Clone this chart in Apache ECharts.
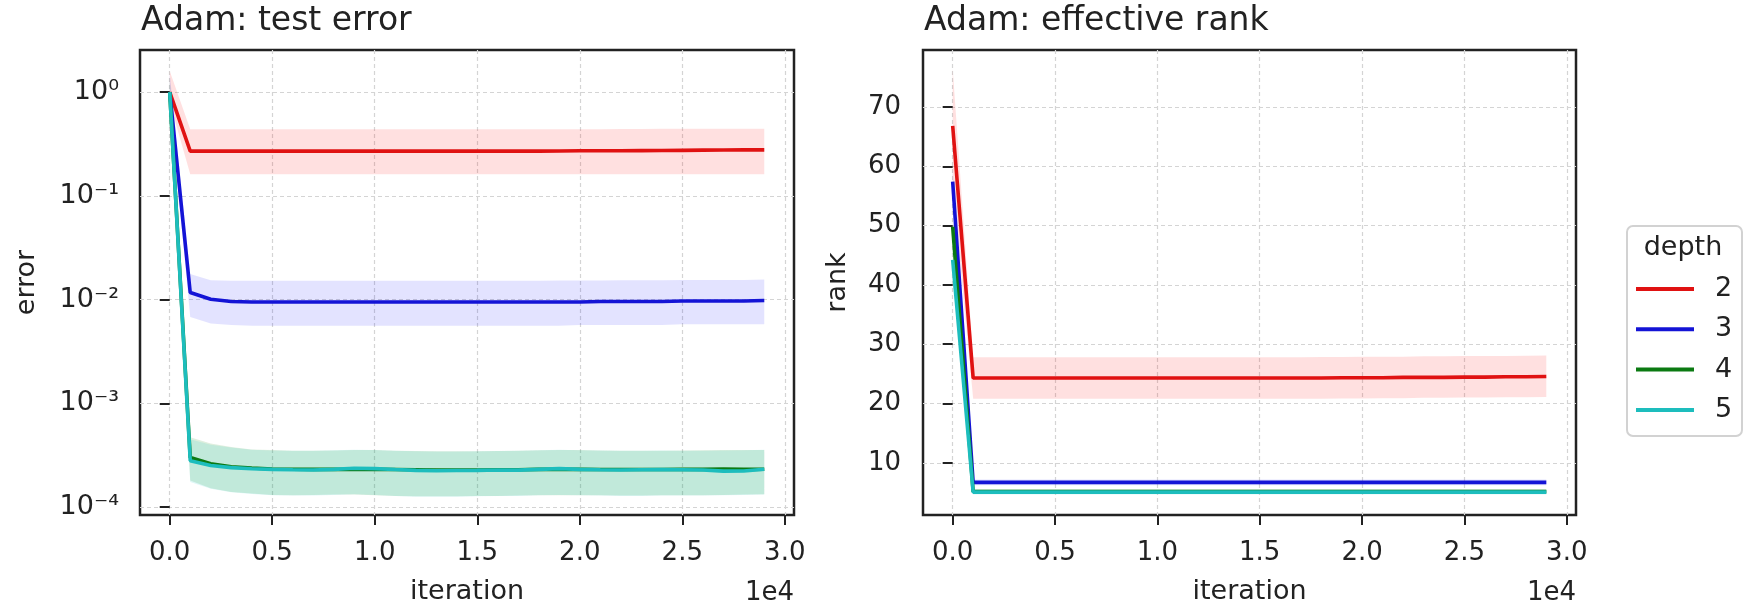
<!DOCTYPE html>
<html>
<head>
<meta charset="utf-8">
<script src="https://cdn.jsdelivr.net/npm/echarts@6/dist/echarts.min.js"></script>
<style>
  html, body { margin: 0; padding: 0; overflow: hidden; background: #fff; }
  #chart { width: 1744px; height: 610px; }
</style>
</head>
<body>
<div id="chart"></div>
<script>
const iterations = [0, 1000, 2000, 3000, 4000, 5000, 6000, 7000, 8000, 9000,
  10000, 11000, 12000, 13000, 14000, 15000, 16000, 17000, 18000, 19000,
  20000, 21000, 22000, 23000, 24000, 25000, 26000, 27000, 28000, 29000];
const depths = ["2", "3", "4", "5"];
const xTickLabels = ["0.0", "0.5", "1.0", "1.5", "2.0", "2.5", "3.0"];

// test error (log scale)
const err2 = [1.0, 0.27, 0.27, 0.27, 0.27, 0.27, 0.27, 0.27, 0.27, 0.27, 0.27, 0.27, 0.27, 0.27, 0.27,
  0.27, 0.27, 0.27, 0.27, 0.271, 0.272, 0.272, 0.272, 0.273, 0.274, 0.275, 0.276, 0.277, 0.278, 0.278];
const err2Up = [1.6, 0.44, 0.44, 0.44, 0.44, 0.44, 0.44, 0.44, 0.44, 0.44, 0.44, 0.44, 0.44, 0.44, 0.44,
  0.44, 0.44, 0.44, 0.44, 0.44, 0.44, 0.44, 0.441, 0.442, 0.443, 0.444, 0.445, 0.445, 0.445, 0.445];
const err2Lo = [0.8, 0.162, 0.162, 0.162, 0.162, 0.162, 0.162, 0.162, 0.162, 0.162, 0.162, 0.162, 0.162, 0.162, 0.162,
  0.162, 0.162, 0.162, 0.162, 0.162, 0.162, 0.162, 0.162, 0.162, 0.162, 0.162, 0.162, 0.162, 0.162, 0.162];
const err3 = [1.0, 0.0117, 0.0101, 0.0096, 0.0095, 0.0095, 0.0095, 0.0095, 0.0095, 0.0095, 0.0095, 0.0095, 0.0095, 0.0095, 0.0095,
  0.0095, 0.0095, 0.0095, 0.0095, 0.0095, 0.0095, 0.0096, 0.0096, 0.0096, 0.0096, 0.0097, 0.0097, 0.0097, 0.0097, 0.0098];
const err3Up = [1.5, 0.0177, 0.0154, 0.0152, 0.0152, 0.0152, 0.0152, 0.0152, 0.0152, 0.0152, 0.0152, 0.0152, 0.0152, 0.0152, 0.0152,
  0.0152, 0.0152, 0.0152, 0.0152, 0.0153, 0.0153, 0.0153, 0.0154, 0.0154, 0.0154, 0.0155, 0.0155, 0.0155, 0.0155, 0.0156];
const err3Lo = [0.8, 0.0068, 0.0059, 0.0057, 0.0056, 0.0056, 0.0056, 0.0056, 0.0056, 0.0056, 0.0056, 0.0056, 0.0056, 0.0056, 0.0056,
  0.0056, 0.0056, 0.0056, 0.0056, 0.0056, 0.0057, 0.0057, 0.0057, 0.0057, 0.0057, 0.0058, 0.0058, 0.0058, 0.0058, 0.0058];
const err4 = [1.0, 0.000300, 0.000262, 0.000245, 0.000238, 0.000233, 0.000232, 0.000231, 0.000231, 0.000230, 0.000231, 0.000230, 0.000229, 0.000228, 0.000228,
  0.000228, 0.000229, 0.000229, 0.000231, 0.000232, 0.000231, 0.000230, 0.000230, 0.000230, 0.000230, 0.000231, 0.000231, 0.000233, 0.000231, 0.000232];
const err4Up = [1.4, 0.00047, 0.00041, 0.00038, 0.00036, 0.000355, 0.00035, 0.00035, 0.000352, 0.000356, 0.000356, 0.00035, 0.000347, 0.000345, 0.000345,
  0.000345, 0.000347, 0.00035, 0.000353, 0.000356, 0.000355, 0.000352, 0.00035, 0.00035, 0.00035, 0.000351, 0.000353, 0.000355, 0.000356, 0.000356];
const err4Lo = [0.8, 0.00018, 0.000152, 0.00014, 0.000135, 0.000131, 0.00013, 0.000131, 0.000132, 0.000132, 0.00013, 0.000128, 0.000127, 0.000127, 0.000127,
  0.000128, 0.000128, 0.000129, 0.00013, 0.00013, 0.00013, 0.00013, 0.000129, 0.000129, 0.00013, 0.00013, 0.00013, 0.000131, 0.000132, 0.000133];
const err5 = [1.0, 0.000280, 0.000252, 0.000240, 0.000234, 0.000231, 0.000229, 0.000228, 0.000231, 0.000237, 0.000235, 0.000230, 0.000226, 0.000224, 0.000225,
  0.000226, 0.000228, 0.000227, 0.000231, 0.000235, 0.000231, 0.000229, 0.000228, 0.000229, 0.000230, 0.000229, 0.000228, 0.000222, 0.000223, 0.000232];
const err5Up = [1.3, 0.00045, 0.0004, 0.000375, 0.000358, 0.000352, 0.000349, 0.00035, 0.000354, 0.000358, 0.000356, 0.000349, 0.000345, 0.000343, 0.000344,
  0.000346, 0.000348, 0.000349, 0.000353, 0.000357, 0.000354, 0.000351, 0.000349, 0.00035, 0.000351, 0.00035, 0.00035, 0.000352, 0.000354, 0.000357];
const err5Lo = [0.8, 0.000175, 0.00015, 0.000139, 0.000134, 0.00013, 0.000129, 0.000129, 0.000131, 0.000133, 0.000131, 0.000128, 0.000126, 0.000126, 0.000126,
  0.000127, 0.000128, 0.000128, 0.00013, 0.000131, 0.00013, 0.000129, 0.000128, 0.000128, 0.000129, 0.000129, 0.000129, 0.00013, 0.000131, 0.000132];

// effective rank
const rank2 = [66.8, 24.3, 24.3, 24.3, 24.3, 24.3, 24.3, 24.3, 24.3, 24.3, 24.3, 24.3, 24.3, 24.3, 24.3,
  24.3, 24.3, 24.3, 24.3, 24.35, 24.35, 24.35, 24.4, 24.4, 24.4, 24.45, 24.45, 24.5, 24.5, 24.55];
const rank2Up = [76.5, 27.8, 27.8, 27.8, 27.8, 27.8, 27.8, 27.8, 27.8, 27.8, 27.8, 27.8, 27.8, 27.8, 27.8,
  27.8, 27.8, 27.8, 27.85, 27.85, 27.9, 27.9, 27.9, 27.95, 27.95, 28.0, 28.0, 28.0, 28.05, 28.1];
const rank2Lo = [57.0, 20.8, 20.8, 20.8, 20.8, 20.8, 20.8, 20.8, 20.8, 20.8, 20.8, 20.8, 20.8, 20.8, 20.8,
  20.8, 20.8, 20.8, 20.8, 20.85, 20.85, 20.9, 20.9, 20.95, 20.95, 21.0, 21.0, 21.05, 21.05, 21.1];
const rank3 = [57.4, 6.7, 6.7, 6.7, 6.7, 6.7, 6.7, 6.7, 6.7, 6.7, 6.7, 6.7, 6.7, 6.7, 6.7,
  6.7, 6.7, 6.7, 6.7, 6.7, 6.7, 6.7, 6.7, 6.7, 6.7, 6.7, 6.7, 6.7, 6.7, 6.7];
const rank3Up = [59.5, 7.2, 7.2, 7.2, 7.2, 7.2, 7.2, 7.2, 7.2, 7.2, 7.2, 7.2, 7.2, 7.2, 7.2,
  7.2, 7.2, 7.2, 7.2, 7.2, 7.2, 7.2, 7.2, 7.2, 7.2, 7.2, 7.2, 7.2, 7.2, 7.2];
const rank3Lo = [55.3, 6.2, 6.2, 6.2, 6.2, 6.2, 6.2, 6.2, 6.2, 6.2, 6.2, 6.2, 6.2, 6.2, 6.2,
  6.2, 6.2, 6.2, 6.2, 6.2, 6.2, 6.2, 6.2, 6.2, 6.2, 6.2, 6.2, 6.2, 6.2, 6.2];
const rank4 = [49.8, 5.15, 5.15, 5.15, 5.15, 5.15, 5.15, 5.15, 5.15, 5.15, 5.15, 5.15, 5.15, 5.15, 5.15,
  5.15, 5.15, 5.15, 5.15, 5.15, 5.15, 5.15, 5.15, 5.15, 5.15, 5.15, 5.15, 5.15, 5.15, 5.15];
const rank4Up = [51.5, 5.55, 5.55, 5.55, 5.55, 5.55, 5.55, 5.55, 5.55, 5.55, 5.55, 5.55, 5.55, 5.55, 5.55,
  5.55, 5.55, 5.55, 5.55, 5.55, 5.55, 5.55, 5.55, 5.55, 5.55, 5.55, 5.55, 5.55, 5.55, 5.55];
const rank4Lo = [48.0, 4.75, 4.75, 4.75, 4.75, 4.75, 4.75, 4.75, 4.75, 4.75, 4.75, 4.75, 4.75, 4.75, 4.75,
  4.75, 4.75, 4.75, 4.75, 4.75, 4.75, 4.75, 4.75, 4.75, 4.75, 4.75, 4.75, 4.75, 4.75, 4.75];
const rank5 = [44.2, 5.05, 5.05, 5.05, 5.05, 5.05, 5.05, 5.05, 5.05, 5.05, 5.05, 5.05, 5.05, 5.05, 5.05,
  5.05, 5.05, 5.05, 5.05, 5.05, 5.05, 5.05, 5.05, 5.05, 5.05, 5.05, 5.05, 5.05, 5.05, 5.05];
const rank5Up = [46.0, 5.45, 5.45, 5.45, 5.45, 5.45, 5.45, 5.45, 5.45, 5.45, 5.45, 5.45, 5.45, 5.45, 5.45,
  5.45, 5.45, 5.45, 5.45, 5.45, 5.45, 5.45, 5.45, 5.45, 5.45, 5.45, 5.45, 5.45, 5.45, 5.45];
const rank5Lo = [42.5, 4.65, 4.65, 4.65, 4.65, 4.65, 4.65, 4.65, 4.65, 4.65, 4.65, 4.65, 4.65, 4.65, 4.65,
  4.65, 4.65, 4.65, 4.65, 4.65, 4.65, 4.65, 4.65, 4.65, 4.65, 4.65, 4.65, 4.65, 4.65, 4.65];

const lineColors = ["#e01212", "#1414d6", "#0b7a12", "#1dbdbd"];
const bandColors = ["rgba(255,0,0,0.12)", "rgba(0,0,255,0.11)", "rgba(0,128,0,0.13)", "rgba(0,191,191,0.13)"];

const FONT = "DejaVu Sans";
const TXT = "#222";
const SUP = { "0": "\u2070", "1": "\u00b9", "2": "\u00b2", "3": "\u00b3", "4": "\u2074", "-": "\u207b" };

function powLabel(v) {
  let e = Math.log10(v);
  let r = Math.round(e);
  if (Math.abs(e - r) > 1e-6) return "";
  let s = String(r).split("").map((c) => SUP[c]).join("");
  return "10" + s;
}

function xLabel(v) {
  let i = Math.round(v / 5000);
  if (Math.abs(v - i * 5000) > 1e-6 || i < 0 || i >= xTickLabels.length) return "";
  return xTickLabels[i];
}

function bandSeries(idx, lower, upper, color) {
  return {
    type: "custom",
    xAxisIndex: idx,
    yAxisIndex: idx,
    silent: true,
    z: 1,
    data: iterations.map((it, i) => [it, lower[i], upper[i]]),
    encode: { x: 0, y: [1, 2] },
    renderItem: function (params, api) {
      if (params.dataIndexInside !== 0) return;
      let n = params.dataInsideLength;
      let pts = [];
      for (let i = 0; i < n; i++) pts.push(api.coord([api.value(0, i), api.value(2, i)]));
      for (let i = n - 1; i >= 0; i--) pts.push(api.coord([api.value(0, i), api.value(1, i)]));
      return { type: "polygon", shape: { points: pts }, style: { fill: color } };
    },
  };
}

function lineSeries(idx, name, values, color) {
  return {
    type: "line",
    name: name,
    xAxisIndex: idx,
    yAxisIndex: idx,
    data: iterations.map((it, i) => [it, values[i]]),
    showSymbol: false,
    symbol: "none",
    z: 3,
    lineStyle: { color: color, width: 3.6 },
    itemStyle: { color: color },
  };
}

const splitStyle = { color: "#d4d4d4", width: 1.2, type: [4, 3] };

function xAxisFor(gridIndex) {
  return {
    type: "value",
    gridIndex: gridIndex,
    min: -1450,
    max: 30450,
    splitNumber: 6,
    name: "iteration",
    nameLocation: "middle",
    nameGap: 63,
    nameTextStyle: { fontFamily: FONT, fontSize: 27, color: TXT },
    axisLine: { show: false },
    axisTick: { show: true, length: 10, lineStyle: { color: "#222", width: 2 } },
    axisLabel: { formatter: xLabel, margin: 25, fontFamily: FONT, fontSize: 26, color: TXT, showMinLabel: false, showMaxLabel: false },
    splitLine: { show: true, showMinLine: false, showMaxLine: false, lineStyle: splitStyle },
  };
}

const errSets = [[err2, err2Lo, err2Up], [err3, err3Lo, err3Up], [err4, err4Lo, err4Up], [err5, err5Lo, err5Up]];
const rankSets = [[rank2, rank2Lo, rank2Up], [rank3, rank3Lo, rank3Up], [rank4, rank4Lo, rank4Up], [rank5, rank5Lo, rank5Up]];

let series = [];
errSets.forEach((s, k) => series.push(bandSeries(0, s[1], s[2], bandColors[k])));
rankSets.forEach((s, k) => series.push(bandSeries(1, s[1], s[2], bandColors[k])));
errSets.forEach((s, k) => series.push(lineSeries(0, depths[k], s[0], lineColors[k])));
rankSets.forEach((s, k) => series.push(lineSeries(1, depths[k], s[0], lineColors[k])));

const gridStyle = { show: true, borderColor: "#222", borderWidth: 2.5, backgroundColor: "transparent" };
const titleStyle = { fontFamily: FONT, fontSize: 33, fontWeight: "normal", color: TXT };

var dom = document.getElementById("chart");
var myChart = echarts.init(dom, null, { renderer: "canvas" });
var option = {
  animation: false,
  backgroundColor: "#fff",
  title: [
    { text: "Adam: test error", left: 141, top: 5, padding: 0, textStyle: titleStyle },
    { text: "Adam: effective rank", left: 924, top: 5, padding: 0, textStyle: titleStyle },
  ],
  grid: [
    Object.assign({ left: 140, top: 50, width: 654, height: 470 }, gridStyle),
    Object.assign({ left: 923, top: 50, width: 653, height: 470 }, gridStyle),
  ],
  xAxis: [xAxisFor(0), xAxisFor(1)],
  yAxis: [
    {
      type: "log",
      gridIndex: 0,
      logBase: 10,
      min: 8.39e-5,
      max: 2.55,
      name: "error",
      nameLocation: "middle",
      nameGap: 100,
      nameTextStyle: { fontFamily: FONT, fontSize: 27, color: TXT },
      axisLine: { show: false },
      axisTick: { show: true, length: 10, lineStyle: { color: "#222", width: 2 } },
      axisLabel: { formatter: powLabel, margin: 21, fontFamily: FONT, fontSize: 27, color: TXT, showMinLabel: false, showMaxLabel: false },
      splitLine: { show: true, showMinLine: false, showMaxLine: false, lineStyle: splitStyle },
      minorTick: { show: false },
    },
    {
      type: "value",
      gridIndex: 1,
      min: 1.2,
      max: 79.6,
      splitNumber: 8,
      name: "rank",
      nameLocation: "middle",
      nameGap: 72,
      nameTextStyle: { fontFamily: FONT, fontSize: 27, color: TXT },
      axisLine: { show: false },
      axisTick: { show: true, length: 10, lineStyle: { color: "#222", width: 2 } },
      axisLabel: {
        formatter: (v) => (Math.abs(v % 10) < 1e-6 ? String(v) : ""),
        margin: 22, fontFamily: FONT, fontSize: 26, color: TXT, showMinLabel: false, showMaxLabel: false,
      },
      splitLine: { show: true, showMinLine: false, showMaxLine: false, lineStyle: splitStyle },
    },
  ],
  legend: {
    data: depths,
    orient: "vertical",
    left: 1636,
    top: 275,
    padding: 0,
    itemGap: 12.3,
    itemWidth: 58,
    itemHeight: 4,
    icon: "rect",
    selectedMode: false,
    z: 10,
    textStyle: { fontFamily: FONT, fontSize: 27, lineHeight: 28, color: TXT, padding: [0, 0, 0, 16] },
  },
  graphic: [
    { type: "rect", z: 5, shape: { x: 1627, y: 226, width: 115, height: 210, r: 6 },
      style: { fill: "#fff", stroke: "#d2d2d2", lineWidth: 2 } },
    { type: "text", z: 6, x: 1683, y: 248,
      style: { text: "depth", fontFamily: FONT, fontSize: 27, fill: TXT, textAlign: "center", textVerticalAlign: "middle" } },
    { type: "text", z: 6, x: 794, y: 593,
      style: { text: "1e4", fontFamily: FONT, fontSize: 26, fill: TXT, textAlign: "right", textVerticalAlign: "middle" } },
    { type: "text", z: 6, x: 1576, y: 593,
      style: { text: "1e4", fontFamily: FONT, fontSize: 26, fill: TXT, textAlign: "right", textVerticalAlign: "middle" } },
  ],
  series: series,
};
myChart.setOption(option);
</script>
</body>
</html>
